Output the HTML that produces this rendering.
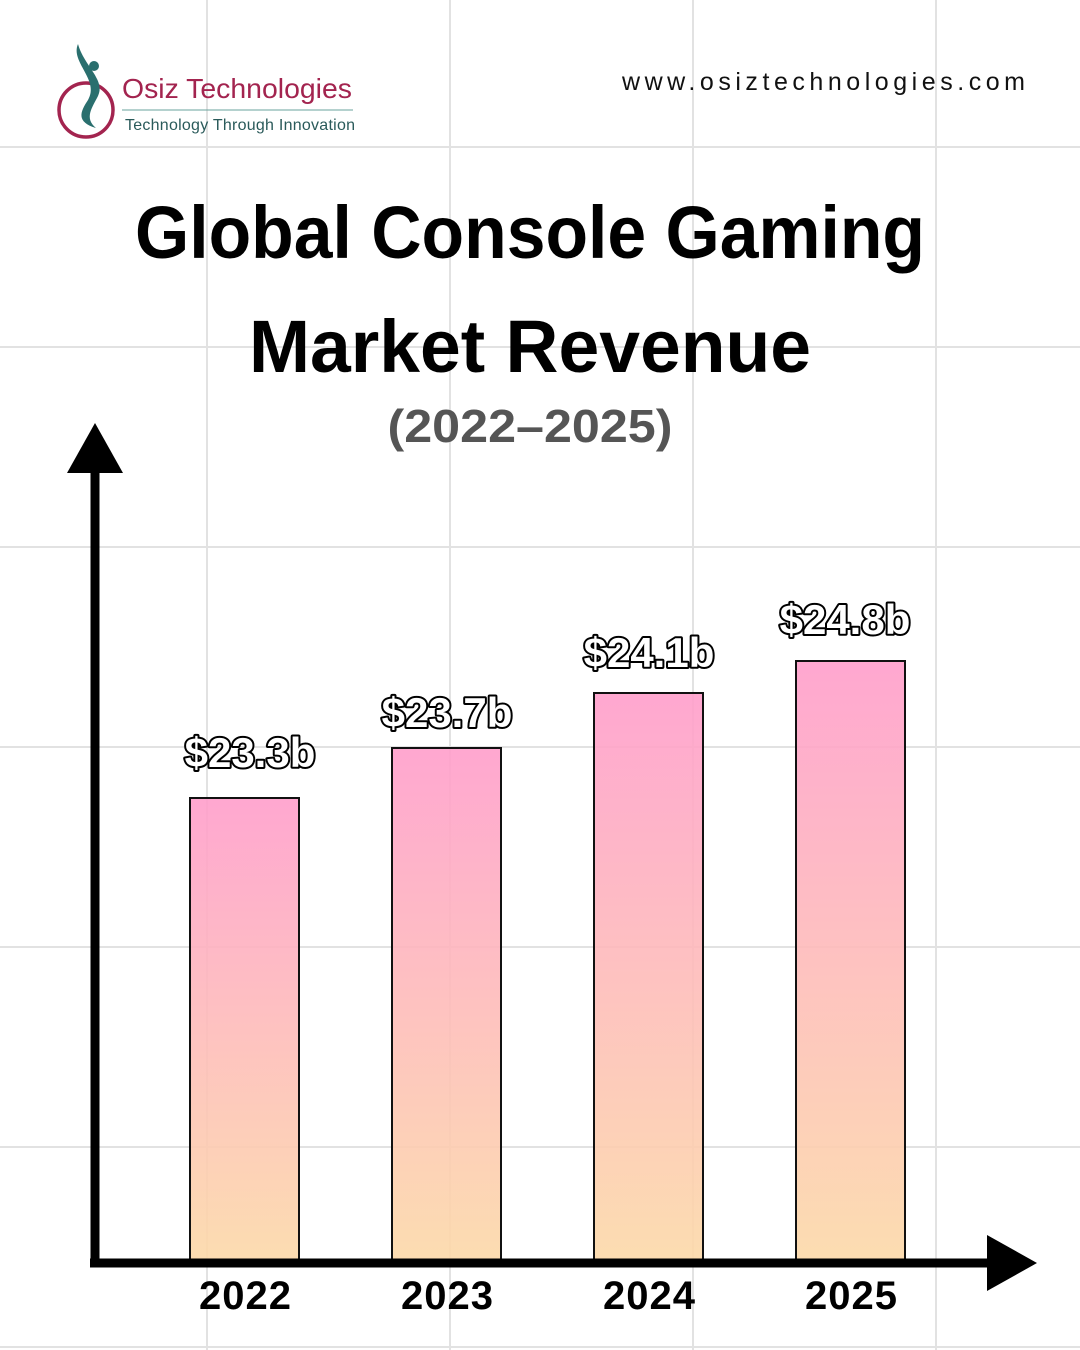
<!DOCTYPE html>
<html><head><meta charset="utf-8"><style>
html,body{margin:0;padding:0;background:#fff}
svg{display:block}
</style></head><body>
<svg width="1080" height="1350" viewBox="0 0 1080 1350" xmlns="http://www.w3.org/2000/svg" font-family="Liberation Sans, sans-serif">
<defs>
<linearGradient id="g" x1="0" y1="0" x2="0" y2="1">
<stop offset="0" stop-color="#ff9ecb"/><stop offset="1" stop-color="#fcd9a8"/>
</linearGradient>
</defs>
<rect width="1080" height="1350" fill="#fff"/>
<g stroke="#e2e2e2" stroke-width="2">
<line x1="207" y1="0" x2="207" y2="1350"/><line x1="450" y1="0" x2="450" y2="1350"/>
<line x1="693" y1="0" x2="693" y2="1350"/><line x1="936" y1="0" x2="936" y2="1350"/>
<line x1="0" y1="147" x2="1080" y2="147"/><line x1="0" y1="347" x2="1080" y2="347"/>
<line x1="0" y1="547" x2="1080" y2="547"/><line x1="0" y1="747" x2="1080" y2="747"/>
<line x1="0" y1="947" x2="1080" y2="947"/><line x1="0" y1="1147" x2="1080" y2="1147"/>
<line x1="0" y1="1347" x2="1080" y2="1347"/>
</g>
<!-- logo -->
<circle cx="86" cy="110" r="27" fill="none" stroke="#a3244f" stroke-width="3.5"/>
<path d="M78 44 C70 62 100 80 88 100 C80 112 76 122 96 128 C84 118 92 108 98 96 C106 80 84 66 78 44Z" fill="#2a6f6e"/>
<circle cx="94" cy="66" r="5" fill="#2a6f6e"/>
<text x="122" y="98" font-size="28" fill="#a3244f" textLength="230" lengthAdjust="spacingAndGlyphs">Osiz Technologies</text>
<line x1="122" y1="110" x2="353" y2="110" stroke="#6aa39c" stroke-width="1"/>
<text x="125" y="130" font-size="16" fill="#2a5a5a" textLength="230">Technology Through Innovation</text>
<text x="622" y="90" font-size="25" fill="#111" textLength="403">www.osiztechnologies.com</text>
<!-- title -->
<text x="530" y="258" text-anchor="middle" font-size="74" font-weight="bold" fill="#000" textLength="790" lengthAdjust="spacingAndGlyphs">Global Console Gaming</text>
<text x="530" y="372" text-anchor="middle" font-size="74" font-weight="bold" fill="#000" textLength="562" lengthAdjust="spacingAndGlyphs">Market Revenue</text>
<text x="530" y="442" text-anchor="middle" font-size="46" font-weight="bold" fill="#555" textLength="285" lengthAdjust="spacingAndGlyphs">(2022–2025)</text>
<!-- bars -->
<g stroke="#111" stroke-width="2" fill="url(#g)" fill-opacity="0.9">
<rect x="190" y="798" width="109" height="464"/>
<rect x="392" y="748" width="109" height="514"/>
<rect x="594" y="693" width="109" height="569"/>
<rect x="796" y="661" width="109" height="601"/>
</g>
<!-- axes -->
<line x1="95" y1="465" x2="95" y2="1267" stroke="#000" stroke-width="9"/>
<polygon points="95,423 67,473 123,473" fill="#000"/>
<line x1="90" y1="1263" x2="992" y2="1263" stroke="#000" stroke-width="9"/>
<polygon points="1037,1263 987,1235 987,1291" fill="#000"/>
<!-- value labels -->
<g font-size="42" font-weight="bold" fill="#fff" stroke="#000" stroke-width="4" stroke-linejoin="round" paint-order="stroke" text-anchor="middle">
<text x="250" y="767">$23.3b</text>
<text x="447" y="727">$23.7b</text>
<text x="649" y="667">$24.1b</text>
<text x="845" y="634">$24.8b</text>
</g>
<!-- years -->
<g font-size="40" font-weight="bold" fill="#000" text-anchor="middle" lengthAdjust="spacingAndGlyphs">
<text x="245" y="1309" textLength="92">2022</text>
<text x="447" y="1309" textLength="92">2023</text>
<text x="649" y="1309" textLength="92">2024</text>
<text x="851" y="1309" textLength="92">2025</text>
</g>
</svg>
</body></html>
